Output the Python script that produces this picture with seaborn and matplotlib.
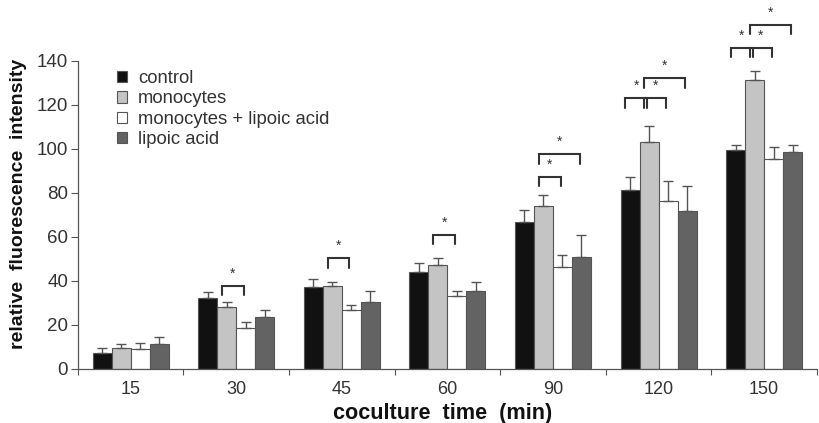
import numpy as np
import pandas as pd
import matplotlib
matplotlib.use("Agg")
import matplotlib.pyplot as plt
import seaborn as sns

# coculture times (min) and treatment groups
times = ["15", "30", "45", "60", "90", "120", "150"]
groups = ["control", "monocytes", "monocytes + lipoic acid", "lipoic acid"]

# mean relative fluorescence intensity per group (one value per time)
control = [7.4, 32.1, 37.1, 44.2, 66.7, 81.5, 99.5]
monocytes = [9.4, 27.9, 37.7, 47.3, 74.2, 103.0, 131.2]
mono_lipoic = [9.0, 18.5, 26.8, 33.3, 46.5, 76.1, 95.3]
lipoic = [11.4, 23.5, 30.3, 35.5, 50.9, 71.7, 98.5]

# upper error (SEM) per group
control_err = [2.1, 2.8, 3.7, 4.1, 5.3, 5.8, 2.3]
monocytes_err = [2.0, 2.4, 2.0, 3.3, 4.9, 7.5, 4.3]
mono_lipoic_err = [2.7, 2.6, 2.3, 2.3, 5.3, 9.4, 5.6]
lipoic_err = [3.0, 3.3, 5.3, 4.2, 10.0, 11.5, 3.2]

# significance brackets: (time index, bar a, bar b, bracket height)
sig_pairs = [
    (1, 1, 2, 37.7),
    (2, 1, 2, 50.3),
    (3, 1, 2, 60.9),
    (4, 1, 2, 87.4),
    (4, 1, 3, 97.6),
    (5, 0, 1, 123.0),
    (5, 1, 2, 123.0),
    (5, 1, 3, 132.1),
    (6, 0, 1, 146.0),
    (6, 1, 2, 146.0),
    (6, 1, 3, 156.4),
]

means = [control, monocytes, mono_lipoic, lipoic]
errs = [control_err, monocytes_err, mono_lipoic_err, lipoic_err]
colors = ["#111111", "#c4c4c4", "#ffffff", "#636363"]

df = pd.DataFrame({
    "time": np.tile(times, len(groups)),
    "group": np.repeat(groups, len(times)),
    "value": np.concatenate(means),
})

sns.set_style("ticks")
plt.rcParams["font.family"] = ["Liberation Sans", "DejaVu Sans"]

fig = plt.figure(figsize=(8.19, 4.23), dpi=100)
ax = fig.add_axes([0.095, 0.128, 0.9025, 0.728])

sns.barplot(data=df, x="time", y="value", hue="group", order=times,
            hue_order=groups, palette=colors, errorbar=None, width=0.72,
            edgecolor="#555555", linewidth=0.8, ax=ax)
bars = list(ax.containers)

# one-sided error bars on top of each bar
for k, cont in enumerate(bars):
    xs = [p.get_x() + p.get_width() / 2 for p in cont.patches]
    ax.errorbar(xs, means[k], yerr=[np.zeros(len(xs)), errs[k]], fmt="none",
                ecolor="#555555", elinewidth=1.0, capsize=3.5, capthick=1.0,
                zorder=1)

# brackets with stars
w = bars[0].patches[0].get_width()
for ti, a, b, h in sig_pairs:
    xa = bars[a].patches[ti].get_x() + w * 0.25
    xb = bars[b].patches[ti].get_x() + w * 0.4
    ax.plot([xa, xa, xb, xb], [h - 4.3, h, h, h - 4.3], color="#333333",
            lw=1.5, clip_on=False, solid_joinstyle="miter")
    ax.text((xa + xb) / 2, h + 5.5, "*", ha="center", va="center",
            fontsize=10, color="#333333", clip_on=False)

ax.set_ylim(0, 140)
ax.set_xlim(-0.5, len(times) - 0.5)
ax.set_yticks(range(0, 141, 20))
ax.set_xticks(range(len(times)))
ax.set_xticklabels(times)
ax.set_xticks(np.arange(-0.5, len(times), 1.0), minor=True)
ax.tick_params(axis="x", which="major", length=0, pad=9, labelsize=13,
               labelcolor="#333333")
ax.tick_params(axis="x", which="minor", length=4, width=0.8, color="#555555")
ax.tick_params(axis="y", length=5, width=0.8, color="#555555", pad=2,
               labelsize=13.5, labelcolor="#333333")

sns.despine(ax=ax)
for s in ["left", "bottom"]:
    ax.spines[s].set_color("#555555")
    ax.spines[s].set_linewidth(0.9)

ax.set_xlabel("coculture  time  (min)", fontsize=15.6, fontweight="bold",
              color="#111111")
ax.xaxis.set_label_coords(0.493, -0.11)
ax.set_ylabel("relative  fluorescence  intensity", fontsize=14,
              fontweight="bold", color="#111111")
ax.yaxis.set_label_coords(-0.069, 0.537)

leg = ax.legend(loc="upper left", bbox_to_anchor=(0.035, 1.012), frameon=False,
                fontsize=13.3, handlelength=0.55, handleheight=0.55,
                handletextpad=0.6, labelspacing=0.18, borderaxespad=0.3)
for t in leg.get_texts():
    t.set_color("#333333")

fig.savefig("out.png", dpi=100)
